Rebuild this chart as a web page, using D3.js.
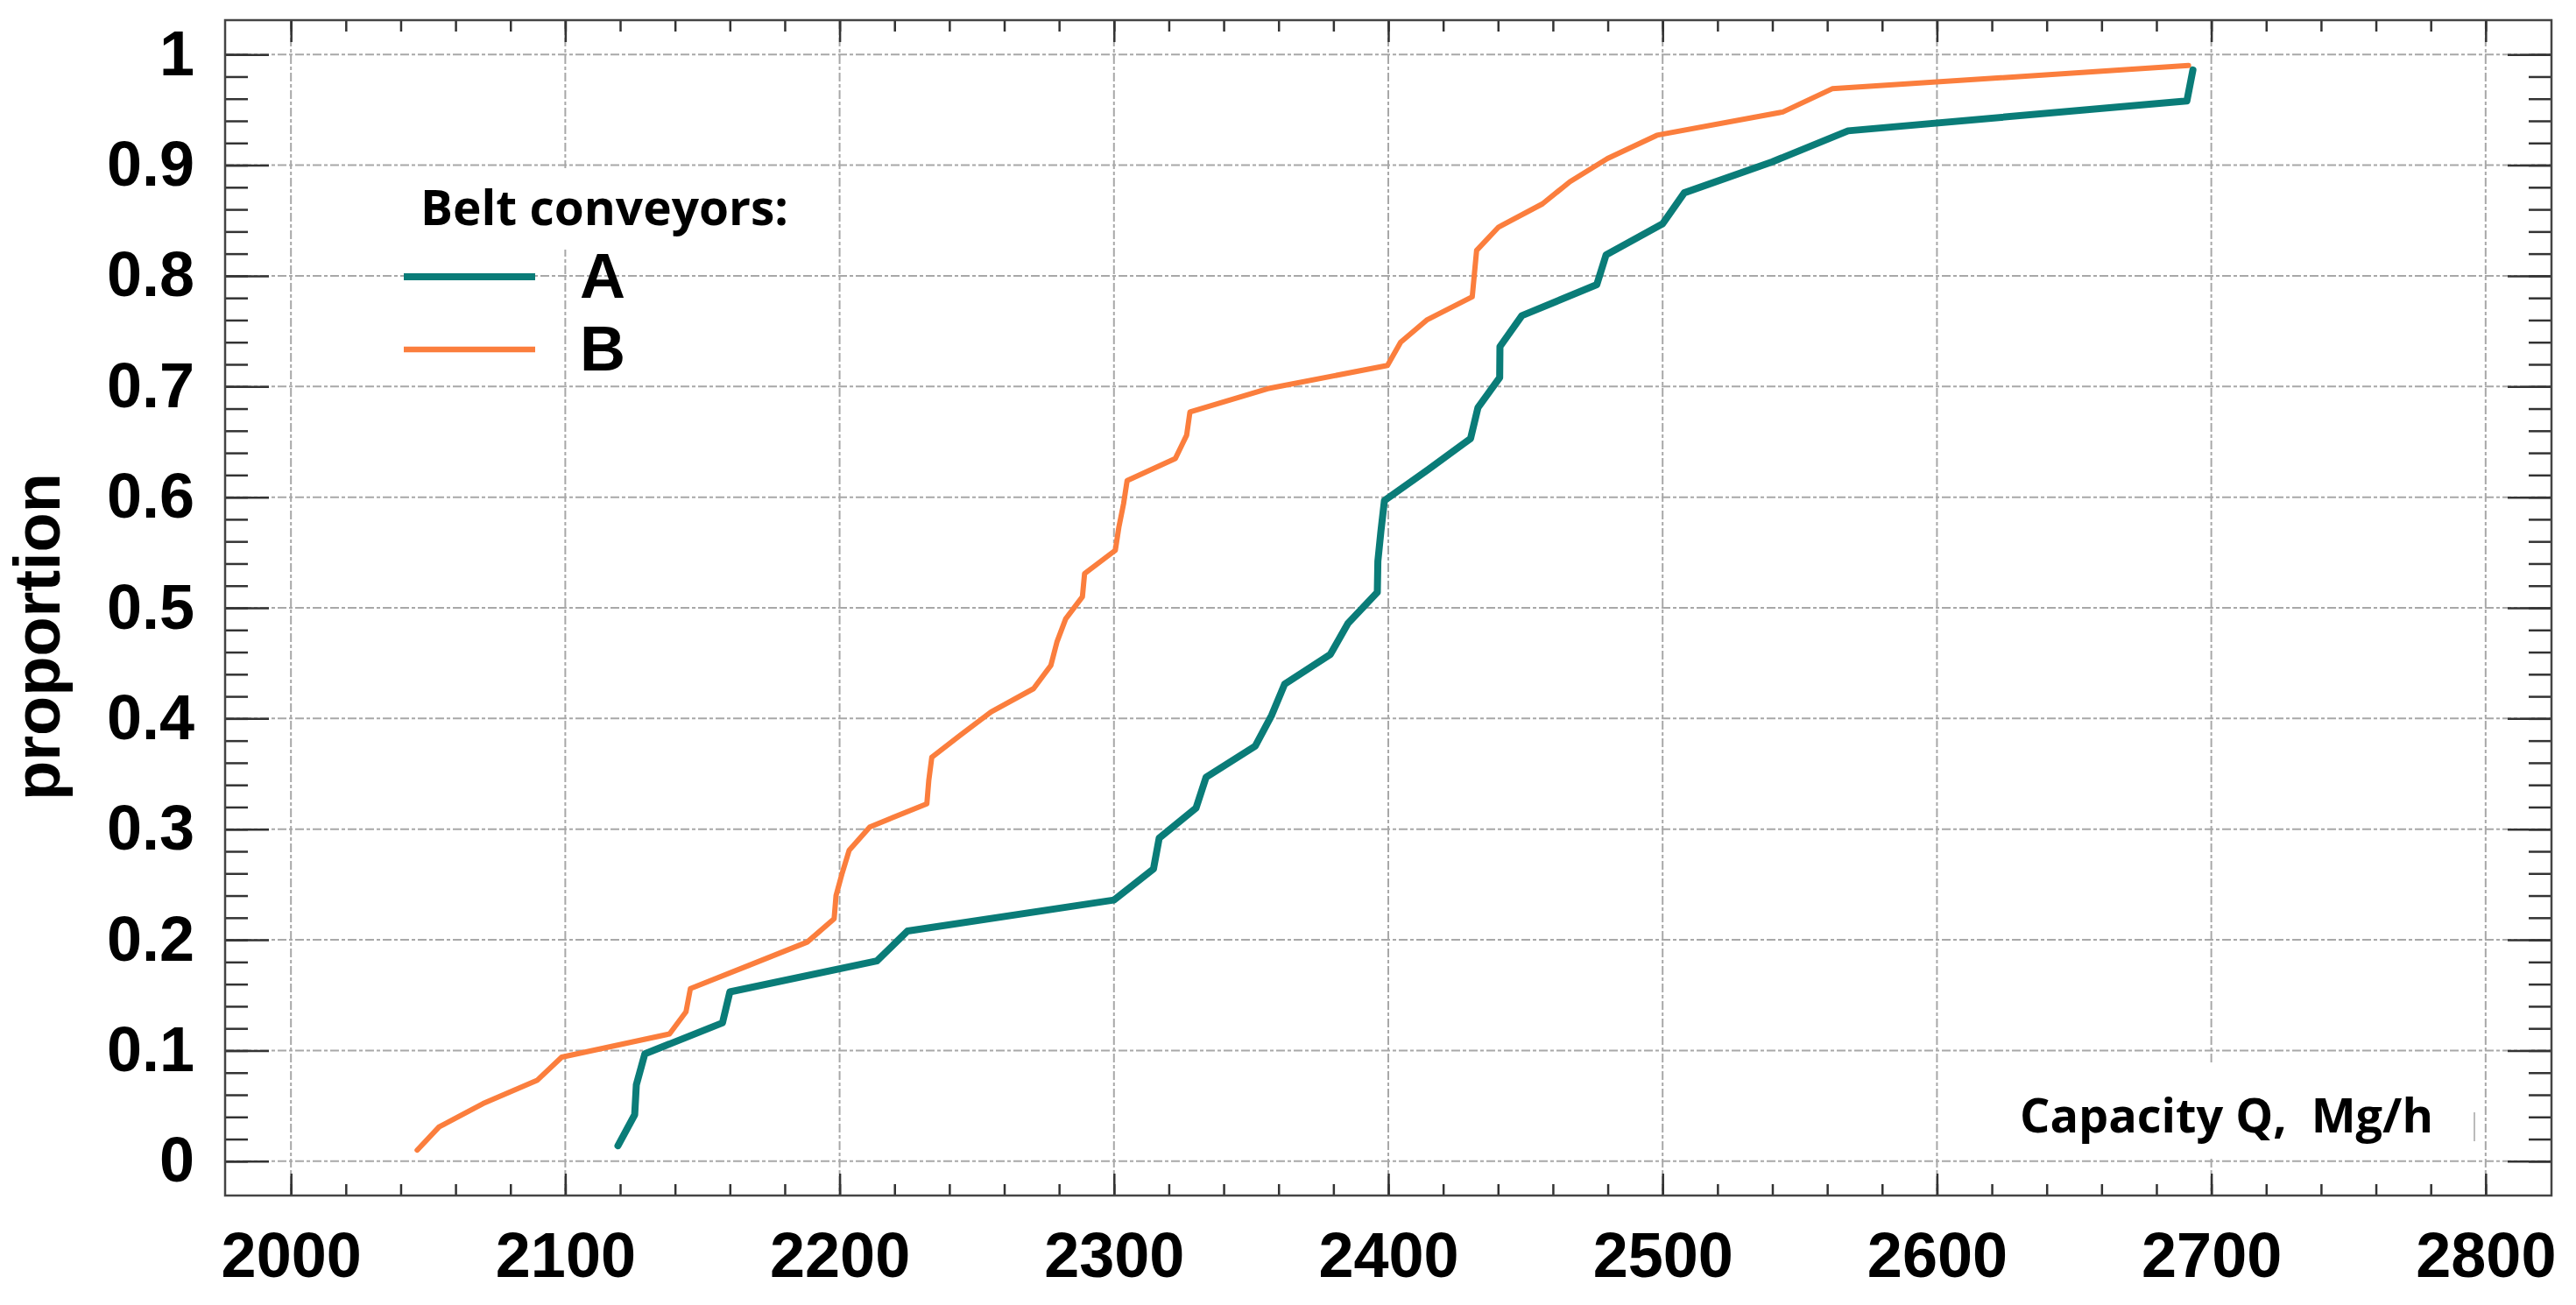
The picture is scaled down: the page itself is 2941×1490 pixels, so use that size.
<!DOCTYPE html>
<html>
<head>
<meta charset="utf-8">
<script src="https://cdn.jsdelivr.net/npm/d3@7"></script>
<style>
  body { margin: 0; background: #fff; }
  svg { display: block; }
</style>
</head>
<body>
<svg id="chart"></svg>
<script>
// capacity (Mg/h) vs cumulative proportion
var aCapacity = [2119.2, 2125.3, 2125.9, 2129.0, 2157.3, 2160.0, 2213.6, 2224.8, 2300.0, 2314.4,
  2316.5, 2329.9, 2333.6, 2351.5, 2357.5, 2362.2, 2378.9, 2385.3, 2396.0, 2396.2,
  2397.3, 2398.6, 2414.6, 2430.0, 2432.7, 2440.6, 2440.7, 2448.7, 2476.0, 2479.4,
  2500.0, 2507.9, 2540.0, 2567.6, 2691.1, 2693.3];
var aProportion = [0.014, 0.042, 0.069, 0.097, 0.125, 0.153, 0.181, 0.208, 0.236, 0.264,
  0.292, 0.319, 0.347, 0.375, 0.403, 0.431, 0.458, 0.486, 0.514, 0.542,
  0.569, 0.597, 0.625, 0.653, 0.681, 0.708, 0.736, 0.764, 0.792, 0.819,
  0.847, 0.875, 0.903, 0.931, 0.958, 0.986];

var bCapacity = [2046.0, 2054.0, 2070.0, 2089.7, 2098.7, 2138.0, 2144.0, 2145.6, 2167.0, 2188.2,
  2198.0, 2198.7, 2200.9, 2203.5, 2211.0, 2231.8, 2232.5, 2233.6, 2244.0, 2255.2,
  2270.7, 2277.0, 2279.2, 2282.4, 2288.5, 2289.3, 2300.5, 2301.8, 2303.5, 2304.8,
  2322.4, 2326.5, 2327.7, 2356.0, 2399.7, 2404.5, 2414.0, 2430.6, 2431.4, 2432.2,
  2440.2, 2456.2, 2466.2, 2479.9, 2497.9, 2543.8, 2561.8, 2691.7];
var bProportion = [0.010, 0.031, 0.052, 0.073, 0.094, 0.115, 0.135, 0.156, 0.177, 0.198,
  0.219, 0.240, 0.260, 0.281, 0.302, 0.323, 0.344, 0.365, 0.385, 0.406,
  0.427, 0.448, 0.469, 0.490, 0.510, 0.531, 0.552, 0.573, 0.594, 0.615,
  0.635, 0.656, 0.677, 0.698, 0.719, 0.740, 0.760, 0.781, 0.802, 0.823,
  0.844, 0.865, 0.885, 0.906, 0.927, 0.948, 0.969, 0.990];

var seriesNames = ["A", "B"];
var xTicks = [2000, 2100, 2200, 2300, 2400, 2500, 2600, 2700, 2800];
var xTickLabels = ["2000", "2100", "2200", "2300", "2400", "2500", "2600", "2700", "2800"];
var yTicks = [0, 0.1, 0.2, 0.3, 0.4, 0.5, 0.6, 0.7, 0.8, 0.9, 1];
var yTickLabels = ["0", "0.1", "0.2", "0.3", "0.4", "0.5", "0.6", "0.7", "0.8", "0.9", "1"];

var W = 2941, H = 1490;
// plot frame edges (note: "top" is taken by window.top)
var pLeft = 257, pRight = 2913, pTop = 23, pBottom = 1365;
var colA = "#0a7c78", colB = "#fb7e3d";
var numFont = "'Liberation Sans', Arial, sans-serif";
var textFont = "'Open Sans', 'Noto Sans', sans-serif";

var svg = d3.select("#chart").attr("width", W).attr("height", H);

var x = d3.scaleLinear().domain([1976, 2824]).range([pLeft, pRight]);
var y = d3.scaleLinear().domain([-0.031, 1.031]).range([pBottom, pTop]);

var xMinor = d3.range(2000, 2801, 20);
var yMinor = d3.range(0, 1.001, 0.02);

// grid
var grid = svg.append("g")
  .attr("stroke", "#a8a8a8")
  .attr("stroke-width", 2)
  .attr("stroke-dasharray", "10,3,4,3");
grid.selectAll(".h").data(yTicks).enter().append("line")
  .attr("x1", pLeft).attr("x2", pRight)
  .attr("y1", function (d) { return y(d); })
  .attr("y2", function (d) { return y(d); });
grid.selectAll(".v").data(xTicks).enter().append("line")
  .attr("y1", pTop).attr("y2", pBottom)
  .attr("x1", function (d) { return x(d); })
  .attr("x2", function (d) { return x(d); });

// white boxes behind the text blocks
svg.append("rect").attr("x", 455).attr("y", 192).attr("width", 470).attr("height", 93).attr("fill", "#fff");
svg.append("rect").attr("x", 2290).attr("y", 1214).attr("width", 536).attr("height", 106).attr("fill", "#fff");

// ticks on all four sides, pointing inward
function ticks(axis, tx, ty) {
  var g = svg.append("g").attr("transform", "translate(" + tx + "," + ty + ")").call(axis);
  g.select(".domain").remove();
  g.selectAll(".tick line").attr("stroke", "#333").attr("stroke-width", 2.5);
  return g;
}
ticks(d3.axisRight(y).tickValues(yMinor).tickSize(26).tickFormat(""), pLeft, 0);
ticks(d3.axisRight(y).tickValues(yTicks).tickSize(50).tickFormat(""), pLeft, 0);
ticks(d3.axisLeft(y).tickValues(yMinor).tickSize(26).tickFormat(""), pRight, 0);
ticks(d3.axisLeft(y).tickValues(yTicks).tickSize(50).tickFormat(""), pRight, 0);
ticks(d3.axisTop(x).tickValues(xMinor).tickSize(13).tickFormat(""), 0, pBottom);
ticks(d3.axisTop(x).tickValues(xTicks).tickSize(25).tickFormat(""), 0, pBottom);
ticks(d3.axisBottom(x).tickValues(xMinor).tickSize(13).tickFormat(""), 0, pTop);
ticks(d3.axisBottom(x).tickValues(xTicks).tickSize(25).tickFormat(""), 0, pTop);

// tick labels
var yl = svg.append("g").attr("transform", "translate(" + pLeft + ",0)")
  .call(d3.axisLeft(y).tickValues(yTicks).tickSize(0).tickPadding(35)
    .tickFormat(function (d, i) { return yTickLabels[i]; }));
yl.select(".domain").remove();
yl.selectAll("text").attr("font-family", numFont).attr("font-weight", "bold")
  .attr("font-size", 72).attr("fill", "#000");

var xl = svg.append("g").attr("transform", "translate(0," + pBottom + ")")
  .call(d3.axisBottom(x).tickValues(xTicks).tickSize(0).tickPadding(42)
    .tickFormat(function (d, i) { return xTickLabels[i]; }));
xl.select(".domain").remove();
xl.selectAll("text").attr("font-family", numFont).attr("font-weight", "bold")
  .attr("font-size", 72).attr("fill", "#000");

// frame
svg.append("rect").attr("x", pLeft).attr("y", pTop)
  .attr("width", pRight - pLeft).attr("height", pBottom - pTop)
  .attr("fill", "none").attr("stroke", "#444").attr("stroke-width", 2.5);

// curves
var line = d3.line()
  .x(function (d) { return x(d[0]); })
  .y(function (d) { return y(d[1]); });

var dataA = aCapacity.map(function (v, i) { return [v, aProportion[i]]; });
var dataB = bCapacity.map(function (v, i) { return [v, bProportion[i]]; });

svg.append("path").datum(dataA).attr("d", line)
  .attr("fill", "none").attr("stroke", colA).attr("stroke-width", 8)
  .attr("stroke-linejoin", "round").attr("stroke-linecap", "round");
svg.append("path").datum(dataB).attr("d", line)
  .attr("fill", "none").attr("stroke", colB).attr("stroke-width", 6)
  .attr("stroke-linejoin", "round").attr("stroke-linecap", "round");

// legend
svg.append("text").attr("x", 480).attr("y", 257)
  .attr("font-family", textFont).attr("font-weight", 700).attr("font-size", 55)
  .text("Belt conveyors:");
var legend = svg.selectAll(".leg").data(seriesNames).enter().append("g");
legend.append("line")
  .attr("x1", 461).attr("x2", 611)
  .attr("y1", function (d, i) { return 316 + i * 83; })
  .attr("y2", function (d, i) { return 316 + i * 83; })
  .attr("stroke", function (d, i) { return i === 0 ? colA : colB; })
  .attr("stroke-width", function (d, i) { return i === 0 ? 8 : 6.5; });
legend.append("text")
  .attr("x", 662)
  .attr("y", function (d, i) { return 340 + i * 83; })
  .attr("font-family", numFont).attr("font-weight", "bold").attr("font-size", 72)
  .text(function (d) { return d; });

// axis titles
svg.append("text").attr("x", 2306).attr("y", 1293)
  .attr("font-family", textFont).attr("font-weight", 700).attr("font-size", 54)
  .style("white-space", "pre")
  .text("Capacity Q,  Mg/h");
svg.append("line").attr("x1", 2825).attr("x2", 2825).attr("y1", 1270).attr("y2", 1303)
  .attr("stroke", "#bbb").attr("stroke-width", 2);

svg.append("text")
  .attr("transform", "translate(68,727) rotate(-90)")
  .attr("text-anchor", "middle")
  .attr("font-family", numFont).attr("font-weight", "bold").attr("font-size", 74)
  .text("proportion");
</script>
</body>
</html>
